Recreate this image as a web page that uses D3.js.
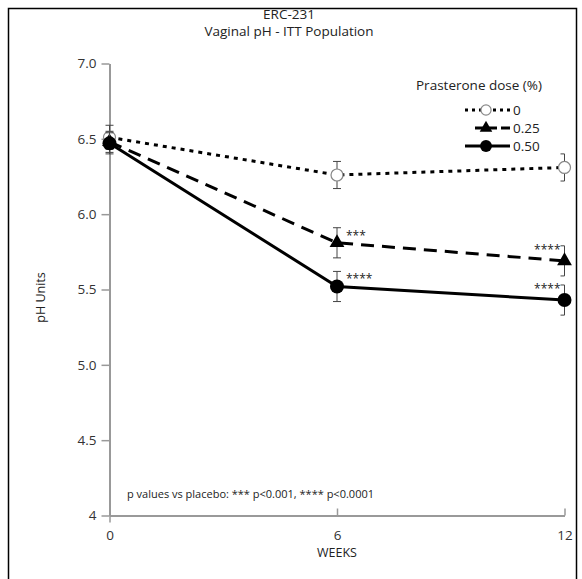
<!DOCTYPE html>
<html><head><meta charset="utf-8">
<script src="https://cdn.jsdelivr.net/npm/d3@7"></script>
<style>body{margin:0;background:#fff}svg{display:block;font-family:"Open Sans",sans-serif}</style>
</head><body><svg id="c" width="582" height="579"></svg>
<script>
const weeks = [0, 6, 12];
const seriesNames = ["0", "0.25", "0.50"];
const placebo = [6.51, 6.26, 6.31];
const dose025 = [6.48, 5.81, 5.69];
const dose050 = [6.47, 5.52, 5.43];
const errPlacebo = [0.08, 0.09, 0.09];
const err025 = [0.07, 0.10, 0.10];
const err050 = [0.07, 0.10, 0.10];
const sig025 = ["", "***", "****"];
const sig050 = ["", "****", "****"];
const yTicks = [4, 4.5, 5.0, 5.5, 6.0, 6.5, 7.0];
const yTickLabels = ["4", "4.5", "5.0", "5.5", "6.0", "6.5", "7.0"];
const xTicks = [0, 6, 12];

const svg = d3.select("#c");
const x = d3.scaleLinear().domain([0, 12]).range([109.5, 564.5]);
const y = d3.scaleLinear().domain([4, 7]).range([515.5, 63.5]);

svg.append("rect").attr("x", 8.5).attr("y", 8.5).attr("width", 568).attr("height", 580)
  .attr("fill", "none").attr("stroke", "#000").attr("stroke-width", 1.5);

svg.append("text").attr("x", 289).attr("y", 19).attr("text-anchor", "middle")
  .attr("font-size", 13.5).attr("fill", "#222").text("ERC-231");
svg.append("text").attr("x", 289).attr("y", 36).attr("text-anchor", "middle")
  .attr("font-size", 13.5).attr("fill", "#222").text("Vaginal pH - ITT Population");

const axisColor = "#999";
const yAxis = svg.append("g").attr("transform", `translate(${x(0)},0)`)
  .call(d3.axisLeft(y).tickValues(yTicks).tickFormat((d, i) => yTickLabels[i]).tickSize(8).tickSizeOuter(0).tickPadding(5));
const xAxis = svg.append("g").attr("transform", `translate(0,${y(4)})`)
  .call(d3.axisBottom(x).tickValues(xTicks).tickSize(7).tickSizeOuter(0).tickPadding(5));
[yAxis, xAxis].forEach(g => {
  g.select(".domain").attr("stroke", axisColor).attr("stroke-width", 2);
  g.selectAll(".tick line").attr("stroke", axisColor).attr("stroke-width", 1.5);
  g.selectAll("text").attr("font-size", 13.5).attr("fill", "#333").attr("font-family", "Open Sans, sans-serif");
});
xAxis.selectAll(".tick line").attr("y2", (d) => d === 0 ? 7 : -7);
xAxis.selectAll(".tick text").attr("dy", "0.95em");

svg.append("text").attr("transform", `translate(45,${y(5.5) + 8}) rotate(-90)`)
  .attr("text-anchor", "middle").attr("font-size", 12.5).attr("fill", "#222").text("pH Units");
svg.append("text").attr("x", x(6)).attr("y", 557).attr("text-anchor", "middle")
  .attr("font-size", 12.5).attr("fill", "#222").text("WEEKS");

svg.append("text").attr("x", 127).attr("y", 498).attr("font-size", 11).attr("fill", "#222")
  .text("p values vs placebo: *** p<0.001, **** p<0.0001");

const series = [
  {name: seriesNames[0], vals: placebo, err: errPlacebo, dash: "4,5", marker: "open", sig: ["", "", ""]},
  {name: seriesNames[1], vals: dose025, err: err025, dash: "13,8", marker: "tri", sig: sig025},
  {name: seriesNames[2], vals: dose050, err: err050, dash: null, marker: "dot", sig: sig050}
];

const line = d3.line().x((d, i) => x(weeks[i])).y(d => y(d));

function drawMarker(g, type, cx, cy, k) {
  k = k || 1;
  if (type === "open") {
    g.append("circle").attr("cx", cx).attr("cy", cy).attr("r", 6 * k).attr("fill", "#fff").attr("stroke", "#888").attr("stroke-width", 1.2);
  } else if (type === "dot") {
    g.append("circle").attr("cx", cx).attr("cy", cy).attr("r", 7 * k).attr("fill", "#000");
  } else {
    g.append("path").attr("transform", `translate(${cx},${cy})`)
      .attr("d", d3.symbol(d3.symbolTriangle, 95 * k * k)()).attr("fill", "#000");
  }
}

series.forEach(s => {
  const g = svg.append("g");
  s.vals.forEach((v, i) => {
    const cx = x(weeks[i]);
    const top = y(v + s.err[i]), bot = y(v - s.err[i]);
    const last = i === weeks.length - 1;
    const c0 = cx - 4, c1 = last ? cx : cx + 4;
    g.append("line").attr("x1", cx).attr("x2", cx).attr("y1", top).attr("y2", bot).attr("stroke", "#444").attr("stroke-width", 1);
    g.append("line").attr("x1", c0).attr("x2", c1).attr("y1", top).attr("y2", top).attr("stroke", "#444").attr("stroke-width", 1);
    g.append("line").attr("x1", c0).attr("x2", c1).attr("y1", bot).attr("y2", bot).attr("stroke", "#444").attr("stroke-width", 1);
  });
  g.append("path").datum(s.vals).attr("d", line).attr("fill", "none").attr("stroke", "#000")
    .attr("stroke-width", 3).attr("stroke-dasharray", s.dash);
  s.vals.forEach((v, i) => drawMarker(g, s.marker, x(weeks[i]), y(v)));
  s.sig.forEach((t, i) => {
    if (!t) return;
    const last = i === weeks.length - 1;
    g.append("text").attr("x", last ? x(weeks[i]) - 4 : x(weeks[i]) + 9)
      .attr("y", y(s.vals[i]) + (last ? -7 : -3))
      .attr("text-anchor", last ? "end" : "start").attr("font-size", 12).attr("fill", "#222").text(t);
  });
});

svg.append("text").attr("x", 416).attr("y", 90).attr("font-size", 13.5).attr("fill", "#222").text("Prasterone dose (%)");
const legY = [110, 128, 146];
const legStart = [465, 475, 465];
series.forEach((s, i) => {
  const g = svg.append("g");
  g.append("line").attr("x1", legStart[i]).attr("x2", 510).attr("y1", legY[i]).attr("y2", legY[i])
    .attr("stroke", "#000").attr("stroke-width", 3).attr("stroke-dasharray", s.dash ? (i === 0 ? "3,4" : "9,4") : null);
  drawMarker(g, s.marker, 486, legY[i], 0.85);
  g.append("text").attr("x", 513).attr("y", legY[i] + 5).attr("font-size", 13.5).attr("fill", "#222").text(s.name);
});
</script></body></html>
